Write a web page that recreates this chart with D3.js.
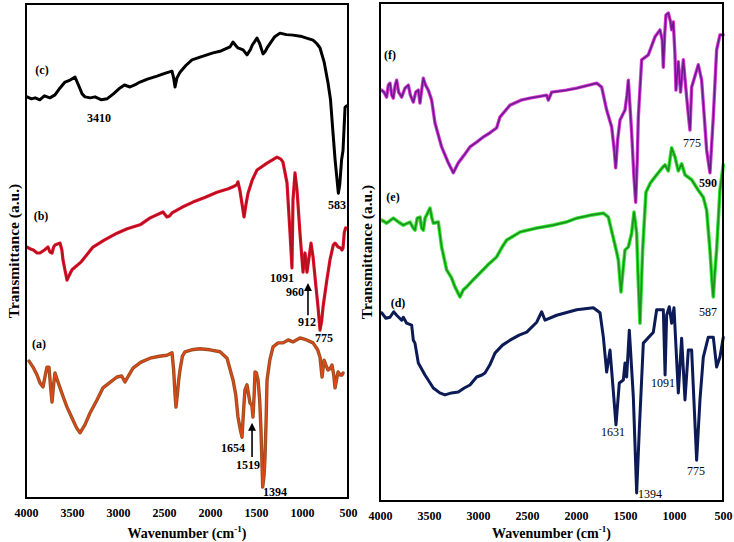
<!DOCTYPE html>
<html><head><meta charset="utf-8">
<script src="https://cdn.jsdelivr.net/npm/d3@7"></script>
<style>body{margin:0;background:#fff} svg text{font-family:"Liberation Serif","Times New Roman",serif}</style>
</head><body>
<svg id="chart" width="734" height="542"></svg>
<script>
// ---- data ----
const xTicks = [4000, 3500, 3000, 2500, 2000, 1500, 1000, 500];
const yLabel = "Transmittance (a.u.)";
const xLabel = "Wavenumber (cm";

// left panel spectra: [wavenumber, transmittance a.u.]
const specC = [[3989,81.2],[3940,80.8],[3900,81.0],[3850,80.6],[3800,81.4],[3740,81.0],[3685,81.6],[3630,83.0],[3576,84.2],[3520,84.6],[3467,85.2],[3430,83.6],[3390,81.8],[3359,81.2],[3300,81.0],[3250,81.2],[3180,80.6],[3120,80.8],[3050,81.8],[2978,83.0],[2930,83.6],[2870,83.2],[2800,83.8],[2761,84.2],[2680,84.8],[2576,85.4],[2500,85.9],[2413,86.4],[2395,85.0],[2380,83.2],[2360,85.0],[2326,86.2],[2260,87.6],[2196,88.7],[2100,89.3],[1967,90.1],[1880,90.5],[1783,91.3],[1750,92.3],[1720,91.6],[1696,91.1],[1640,90.7],[1598,89.7],[1560,90.8],[1540,91.7],[1489,93.1],[1460,92.0],[1424,89.9],[1400,90.4],[1380,91.1],[1300,93.3],[1239,94.1],[1170,93.8],[1098,93.7],[1000,93.4],[950,93.1],[880,92.7],[840,92.0],[804,91.1],[760,88.3],[717,84.0],[690,80.6],[663,73.9],[640,68.4],[619,64.4],[605,61.7],[590,63.4],[570,68.4],[554,70.4],[540,76.0],[532,79.1],[515,79.4]];
const specB = [[3989,50.8],[3950,50.4],[3920,50.2],[3880,49.6],[3848,49.6],[3800,50.2],[3761,50.8],[3740,49.8],[3717,49.6],[3700,50.8],[3685,51.2],[3630,51.6],[3610,50.2],[3598,48.2],[3575,46.0],[3554,44.1],[3530,45.1],[3500,46.2],[3400,47.8],[3272,50.8],[3150,52.2],[3011,53.6],[2900,54.5],[2761,55.3],[2650,56.7],[2511,57.9],[2468,56.9],[2440,57.1],[2413,57.7],[2300,58.9],[2185,59.9],[2050,60.9],[1924,61.9],[1800,62.6],[1750,63.0],[1710,63.4],[1696,64.0],[1675,62.3],[1650,59.3],[1630,56.9],[1610,59.3],[1587,61.7],[1540,64.4],[1489,66.4],[1380,67.8],[1272,69.0],[1230,68.6],[1207,68.0],[1163,63.8],[1130,53.6],[1109,46.6],[1098,60.3],[1076,65.8],[1054,62.3],[1022,53.6],[989,45.7],[967,49.6],[946,45.7],[902,51.6],[880,48.8],[850,43.1],[826,38.7],[804,34.0],[785,36.0],[771,38.7],[730,44.1],[696,48.2],[660,51.2],[641,51.6],[608,50.8],[580,50.6],[565,50.2],[554,50.6],[540,53.8],[525,54.7]];
const specA = [[3967,27.7],[3924,26.5],[3880,24.9],[3848,23.3],[3815,22.5],[3790,24.9],[3772,26.5],[3750,26.5],[3730,21.9],[3717,19.4],[3700,22.9],[3685,25.3],[3660,23.9],[3630,22.3],[3590,20.2],[3554,18.4],[3500,16.2],[3450,14.2],[3413,13.2],[3360,14.8],[3304,17.2],[3230,19.8],[3163,22.3],[3080,23.5],[3011,24.5],[2960,24.7],[2924,23.5],[2900,24.3],[2837,26.3],[2750,27.5],[2652,28.3],[2550,28.7],[2468,28.9],[2413,29.4],[2395,25.9],[2380,20.9],[2370,18.4],[2355,20.9],[2340,23.9],[2326,25.9],[2300,28.7],[2272,29.6],[2200,30.0],[2109,30.2],[2000,30.0],[1891,29.6],[1815,28.3],[1750,23.9],[1720,20.9],[1696,16.4],[1670,13.8],[1652,12.3],[1635,17.8],[1620,21.9],[1598,22.9],[1580,20.9],[1565,19.2],[1545,18.8],[1533,16.4],[1520,20.9],[1511,25.5],[1495,25.3],[1478,23.9],[1460,19.8],[1446,13.8],[1436,7.7],[1427,2.2],[1412,4.7],[1402,8.3],[1390,15.8],[1380,23.9],[1350,27.9],[1315,30.6],[1260,31.4],[1207,31.4],[1150,32.0],[1100,31.6],[1022,32.4],[950,32.0],[880,31.4],[830,30.0],[804,28.5],[790,25.9],[782,24.5],[761,27.9],[740,26.9],[717,25.9],[690,26.3],[674,26.9],[655,24.9],[641,22.3],[625,23.9],[608,25.5],[585,24.9],[565,24.9],[554,25.3]];

// right panel spectra
const specF = [[3983,82.5],[3960,82.1],[3932,81.1],[3915,83.5],[3898,83.9],[3880,81.5],[3864,80.9],[3845,83.5],[3830,84.5],[3810,82.1],[3779,81.1],[3745,82.9],[3711,83.5],[3690,81.5],[3660,80.1],[3635,82.1],[3609,82.5],[3592,79.9],[3575,82.5],[3558,84.9],[3535,83.5],[3507,82.5],[3473,80.5],[3439,75.9],[3405,73.5],[3371,71.1],[3303,67.9],[3252,65.9],[3201,67.9],[3140,69.5],[3082,71.1],[3010,72.1],[2946,73.1],[2880,73.9],[2810,74.9],[2776,77.1],[2673,79.5],[2560,80.5],[2469,80.9],[2299,81.5],[2282,80.5],[2248,82.1],[2100,82.5],[1993,82.9],[1789,83.9],[1738,83.1],[1687,78.5],[1636,75.1],[1610,70.5],[1595,66.9],[1575,72.5],[1551,76.5],[1500,78.5],[1480,81.5],[1466,84.5],[1450,79.5],[1432,73.9],[1410,65.5],[1391,60.0],[1375,68.5],[1364,77.1],[1330,88.6],[1262,89.6],[1194,93.2],[1143,94.6],[1120,92.6],[1109,87.1],[1095,93.6],[1082,97.6],[1058,98.0],[1035,96.2],[1024,94.6],[1007,96.2],[990,89.6],[980,82.5],[956,88.2],[933,82.1],[905,88.6],[871,81.1],[850,76.9],[837,74.5],[820,83.1],[752,87.6],[718,84.5],[690,76.9],[667,70.5],[633,65.9],[599,77.1],[565,90.6],[531,93.6],[497,93.6]];
const specE = [[3983,56.4],[3932,55.8],[3864,56.8],[3810,56.0],[3762,55.4],[3694,56.0],[3660,54.8],[3643,54.4],[3620,56.8],[3592,57.0],[3575,54.8],[3558,54.4],[3540,56.8],[3524,57.4],[3490,58.8],[3470,56.8],[3456,55.8],[3405,56.0],[3371,51.0],[3320,46.4],[3270,44.8],[3235,43.0],[3184,41.0],[3150,42.4],[3116,43.0],[3050,44.4],[2980,45.8],[2900,47.4],[2810,49.0],[2760,50.8],[2707,52.4],[2571,54.0],[2401,54.8],[2231,55.4],[2100,56.0],[1993,56.8],[1850,57.4],[1721,57.8],[1670,57.0],[1619,52.8],[1590,50.4],[1568,48.4],[1541,42.0],[1520,46.4],[1500,50.4],[1466,51.0],[1432,53.8],[1408,58.0],[1381,53.8],[1365,44.4],[1347,35.7],[1335,42.4],[1320,50.4],[1286,62.0],[1240,63.9],[1177,65.5],[1120,66.9],[1092,67.5],[1058,66.3],[1024,70.9],[990,69.1],[956,66.3],[922,67.7],[888,65.5],[820,64.5],[752,62.4],[701,61.0],[667,58.4],[633,50.4],[610,43.4],[599,41.0],[585,45.4],[565,50.4],[531,62.4],[497,67.5]];
const specD = [[3983,37.8],[3940,36.7],[3898,36.9],[3860,38.0],[3830,37.3],[3779,36.3],[3762,36.9],[3728,35.7],[3677,35.3],[3660,32.3],[3643,31.7],[3609,27.7],[3541,25.3],[3456,22.7],[3390,21.7],[3337,21.3],[3270,21.7],[3201,21.9],[3140,22.7],[3082,23.3],[3014,24.9],[2960,25.3],[2929,25.7],[2880,27.3],[2827,29.7],[2750,31.3],[2673,32.3],[2580,33.3],[2503,33.9],[2401,35.9],[2350,38.0],[2316,36.3],[2197,37.3],[1993,38.4],[1823,38.8],[1755,37.8],[1721,32.9],[1687,25.9],[1653,30.3],[1626,23.7],[1592,15.3],[1558,23.7],[1517,24.3],[1500,27.7],[1483,24.9],[1456,34.3],[1415,20.9],[1381,1.6],[1354,14.3],[1313,31.7],[1211,33.9],[1177,38.4],[1109,38.4],[1091,25.3],[1075,37.3],[1048,39.0],[1024,35.7],[1000,38.8],[956,21.7],[922,32.7],[888,20.3],[854,30.3],[820,30.3],[769,8.2],[735,20.3],[701,28.9],[650,32.9],[599,32.9],[565,26.9],[531,28.9],[497,32.9]];

// annotations: [text, wavenumber, transmittance, bold]
const notesLeft = [["(c)",3826,86.6,1],["3410",3206,76.9,1],["583",619,59.3,1],["(b)",3837,57.1,1],["1091",1217,44.5,1],["960",1076,41.7,1],["912",946,35.6,1],["775",761,32.4,1],["(a)",3859,31.2,1],["1654",1750,10.1,1],["1519",1587,6.7,1],["1394",1293,1.2,1]];
const notesRight = [["(f)",3898,89.6,1],["775",816,71.9,0],["590",653,63.9,1],["(e)",3867,61.0,1],["587",653,38.0,0],["(d)",3816,39.8,1],["1631",1622,13.9,0],["1394",1245,1.4,0],["1091",1112,23.7,0],["775",776,6.0,0]];
// arrows: [wavenumber, from, to]
const arrowsLeft = [[935,37.0,42.7],[1543,8.3,14.4]];

// ---- drawing ----
const svg = d3.select("#chart");
const defs = svg.append("defs");
defs.append("marker").attr("id","ah").attr("viewBox","0 0 10 10").attr("refX",5).attr("refY",5)
  .attr("markerWidth",5).attr("markerHeight",6).attr("orient","auto")
  .append("path").attr("d","M0,0 L10,5 L0,10 z").attr("fill","#000");

const FONT = "Liberation Serif, Times New Roman, serif";

function panel(box, curves, notes, arrows, ylabX) {
  const x = d3.scaleLinear().domain([4000, 500]).range([box.x0, box.x1]);
  const y = d3.scaleLinear().domain([0, 100]).range([box.y1, box.y0]);
  const g = svg.append("g");
  const line = d3.line().x(d => x(d[0])).y(d => y(d[1]));
  curves.forEach(c => {
    g.append("path").datum(c.data).attr("d", line).attr("fill","none")
      .attr("stroke", c.outer).attr("stroke-width", c.w).attr("stroke-linejoin","round").attr("stroke-linecap","round");
    if (c.inner) g.append("path").datum(c.data).attr("d", line).attr("fill","none")
      .attr("stroke", c.inner).attr("stroke-width", c.w*0.45).attr("stroke-linejoin","round");
  });
  g.append("rect").attr("x", box.x0).attr("y", box.y0).attr("width", box.x1-box.x0).attr("height", box.y1-box.y0)
    .attr("fill","none").attr("stroke","#000").attr("stroke-width",2);
  const ax = g.append("g").attr("transform", `translate(0,${box.y1})`)
    .call(d3.axisBottom(x).tickValues(xTicks).tickFormat(d3.format("d")).tickSize(0).tickPadding(10));
  ax.attr("font-family", FONT);
  ax.select(".domain").remove();
  ax.selectAll("text").attr("font-family", FONT).attr("font-weight","bold").attr("font-size",12).attr("fill","#000");
  const t = g.append("text").attr("x", (box.x0+box.x1)/2).attr("y", 538).attr("text-anchor","middle")
    .attr("font-family", FONT).attr("font-weight","bold").attr("font-size",14).attr("fill","#000");
  t.append("tspan").text(xLabel);
  t.append("tspan").text("-1").attr("font-size",9).attr("dy",-6);
  t.append("tspan").text(")").attr("dy",6);
  g.append("text").attr("transform", `translate(${ylabX},${(box.y0+box.y1)/2})rotate(-90)`)
    .attr("text-anchor","middle").attr("dominant-baseline","central").attr("fill","#000")
    .attr("font-family", FONT).attr("font-weight","bold").attr("font-size",15.5).text(yLabel);
  notes.forEach(n => {
    g.append("text").attr("x", x(n[1])).attr("y", y(n[2])).attr("text-anchor","middle")
      .attr("dominant-baseline","central").attr("font-family", FONT).attr("fill","#000")
      .attr("font-weight", n[3] ? "bold" : "normal").attr("font-size", 12).text(n[0]);
  });
  arrows.forEach(a => {
    g.append("line").attr("x1", x(a[0])).attr("x2", x(a[0])).attr("y1", y(a[1])).attr("y2", y(a[2]))
      .attr("stroke","#000").attr("stroke-width",1.6).attr("marker-end","url(#ah)");
  });
}

panel({x0:26, x1:348, y0:4, y1:498}, [
  {data: specC, outer:"#000000", w:3},
  {data: specB, outer:"#e3122b", inner:"#b0101f", w:3.2},
  {data: specA, outer:"#94501e", inner:"#e2461a", w:3.4}
], notesLeft, arrowsLeft, 13);

panel({x0:380, x1:723, y0:3, y1:501}, [
  {data: specF, outer:"#d63bd6", inner:"#6a1b8a", w:3.4},
  {data: specE, outer:"#33e633", inner:"#1f8f1f", w:3.6},
  {data: specD, outer:"#0c1a55", w:3}
], notesRight, [], 366);
</script>
</body></html>
